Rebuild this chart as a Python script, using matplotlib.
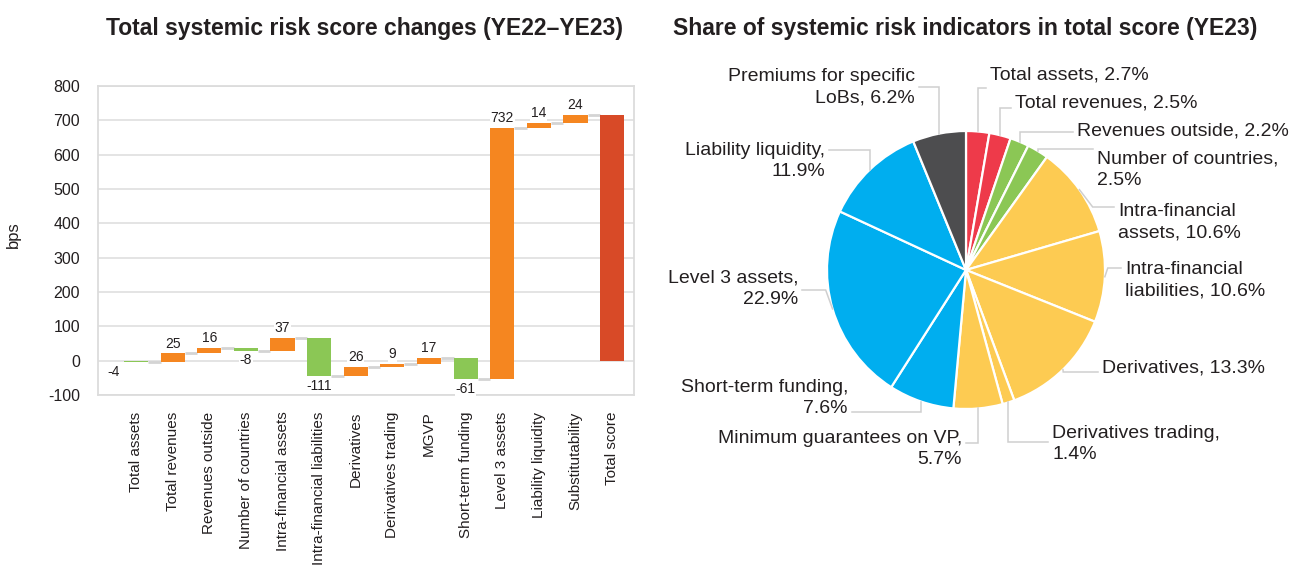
import matplotlib.pyplot as plt
import numpy as np

plt.rcParams['font.family'] = ['Liberation Sans', 'DejaVu Sans']
plt.rcParams['axes.unicode_minus'] = False

W, H = 1296, 572

# waterfall: change per indicator (bps), YE22 -> YE23
wf_labels = ['Total assets', 'Total revenues', 'Revenues outside', 'Number of countries',
             'Intra-financial assets', 'Intra-financial liabilities', 'Derivatives',
             'Derivatives trading', 'MGVP', 'Short-term funding', 'Level 3 assets',
             'Liability liquidity', 'Substitutability']
wf_changes = [-4, 25, 16, -8, 37, -111, 26, 9, 17, -61, 732, 14, 24]
total_label = 'Total score'

# pie: share of each indicator in total score (YE23), clockwise from 12 o'clock
pie_names = ['Total assets', 'Total revenues', 'Revenues outside', 'Number of countries',
             'Intra-financial assets', 'Intra-financial liabilities', 'Derivatives',
             'Derivatives trading', 'Minimum guarantees on VP', 'Short-term funding',
             'Level 3 assets', 'Liability liquidity', 'Premiums for specific LoBs']
pie_shares = [2.7, 2.5, 2.2, 2.5, 10.6, 10.6, 13.3, 1.4, 5.7, 7.6, 22.9, 11.9, 6.2]
pie_colors = ['#ee3a4a', '#ee3a4a', '#8bc755', '#8bc755', '#fdcb52', '#fdcb52', '#fdcb52',
              '#fdcb52', '#fdcb52', '#00aeef', '#00aeef', '#00aeef', '#4d4d4f']
# label text as printed (line breaks)
pie_label_text = ['Total assets, {}%', 'Total revenues, {}%', 'Revenues outside, {}%',
                  'Number of countries,\n{}%', 'Intra-financial\nassets, {}%',
                  'Intra-financial\nliabilities, {}%', 'Derivatives, {}%',
                  'Derivatives trading,\n{}%', 'Minimum guarantees on VP,\n{}%',
                  'Short-term funding,\n{}%', 'Level 3 assets,\n{}%',
                  'Liability liquidity,\n{}%', 'Premiums for specific\nLoBs, {}%']
# label placement in pixels: text x, text y (centre), alignment, leader y
pie_label_pos = [(990, 75, 'left', 88), (1015, 103, 'left', 108), (1077, 131, 'left', 132),
                 (1097, 170, 'left', 149), (1118, 222, 'left', 207), (1125, 280, 'left', 268),
                 (1102, 368, 'left', 372), (1052, 444, 'left', 442), (962, 449, 'right', 443),
                 (848, 398, 'right', 412), (798, 289, 'right', 290), (825, 161, 'right', 150),
                 (915, 87, 'right', 87)]

TXT = '#231f20'
ORANGE, GREEN, RED = '#f58620', '#8bc755', '#d84a27'

fig = plt.figure(figsize=(W / 100, H / 100), dpi=100)

# ---------------- waterfall ----------------
ax = fig.add_axes([98 / W, (H - 395) / H, 536 / W, 309 / H])
changes = np.array(wf_changes)
n = len(changes)
ends = np.cumsum(changes)
starts = ends - changes
bw = 0.66
cols = [ORANGE if c > 0 else GREEN for c in changes]
ax.bar(np.arange(n), np.abs(changes), bottom=np.minimum(starts, ends), width=bw,
       color=cols, zorder=3)
ax.bar(n, ends[-1], width=bw, color=RED, zorder=3)

for i in range(n):
    ax.plot([i + bw / 2, i + 1 - bw / 2], [ends[i], ends[i]], color='#d4d4d4', lw=2,
            zorder=2, solid_capstyle='butt')

for i, c in enumerate(changes):
    if c > 0:
        ax.annotate(str(c), (i, ends[i]), xytext=(0, 2), textcoords='offset points',
                    ha='center', va='bottom', fontsize=10, color=TXT, zorder=4,
                    bbox=dict(fc='white', ec='none', pad=0.5))
    else:
        dx = -16 if i == 0 else 0
        ax.annotate(str(c), (i, ends[i]), xytext=(dx, -2), textcoords='offset points',
                    ha='center', va='top', fontsize=10, color=TXT, zorder=4,
                    bbox=dict(fc='white', ec='none', pad=0.5))

ax.set_ylim(-100, 800)
ax.set_yticks(np.arange(-100, 801, 100))
ax.set_xlim(-1.04, n + 0.6)
ax.set_xticks(np.arange(n + 1))
ax.set_xticklabels(wf_labels + [total_label], rotation=90, fontsize=11, color=TXT)
ax.tick_params(axis='y', labelsize=11.5, colors=TXT, length=0, pad=13)
ax.tick_params(axis='x', length=0, pad=12)
ax.grid(axis='y', color='#e2e2e2', lw=1.3, zorder=0)
for s in ax.spines.values():
    s.set_color('#dcdcdc')
    s.set_linewidth(1.3)
ax.set_ylabel('bps', fontsize=12, color=TXT)
ax.yaxis.set_label_coords((21 - 98) / 536, 0.52)

fig.text(365 / W, 1 - 28 / H, 'Total systemic risk score changes (YE22\u2013YE23)',
         ha='center', va='center', fontsize=16.5, weight='bold', color=TXT)

# ---------------- pie ----------------
CX, CY, R = 966, 270, 139
half = 300
pax = fig.add_axes([(CX - half) / W, (H - CY - half) / H, 2 * half / W, 2 * half / H])
pax.pie(pie_shares, colors=pie_colors, startangle=90, counterclock=False, radius=1,
        wedgeprops=dict(edgecolor='white', linewidth=1.6))
lim = half / R
pax.set_xlim(-lim, lim)
pax.set_ylim(-lim, lim)
pax.axis('off')


def dx_(px):
    return (px - CX) / R


def dy_(py):
    return (CY - py) / R


shares = np.array(pie_shares)
mids = 90 - 360 * (np.cumsum(shares) - shares / 2) / shares.sum()
for k, (share, fmt) in enumerate(zip(pie_shares, pie_label_text)):
    tx, ty, ha, yl = pie_label_pos[k]
    sgn = 1 if ha == 'left' else -1
    a = np.deg2rad(mids[k])
    ax_, ay_ = np.cos(a), np.sin(a)
    ly = dy_(yl)
    if abs(ly) < 1:
        kx = sgn * (np.sqrt(1 - ly ** 2) + 0.02)
        kx = max(kx, ax_) if sgn > 0 else min(kx, ax_)
    else:
        kx = ax_
    ex = dx_(tx - sgn * 4)
    pax.plot([ax_, kx, ex], [ay_, ly, ly], color='#cfcfcf', lw=1.1, clip_on=False,
             solid_joinstyle='miter')
    pax.text(dx_(tx), dy_(ty), fmt.format(share), ha=ha, va='center', fontsize=14,
             color=TXT, linespacing=1.33, clip_on=False)

fig.text(965 / W, 1 - 28 / H, 'Share of systemic risk indicators in total score (YE23)',
         ha='center', va='center', fontsize=16.5, weight='bold', color=TXT)

fig.savefig('out.png', dpi=100, facecolor='white')
